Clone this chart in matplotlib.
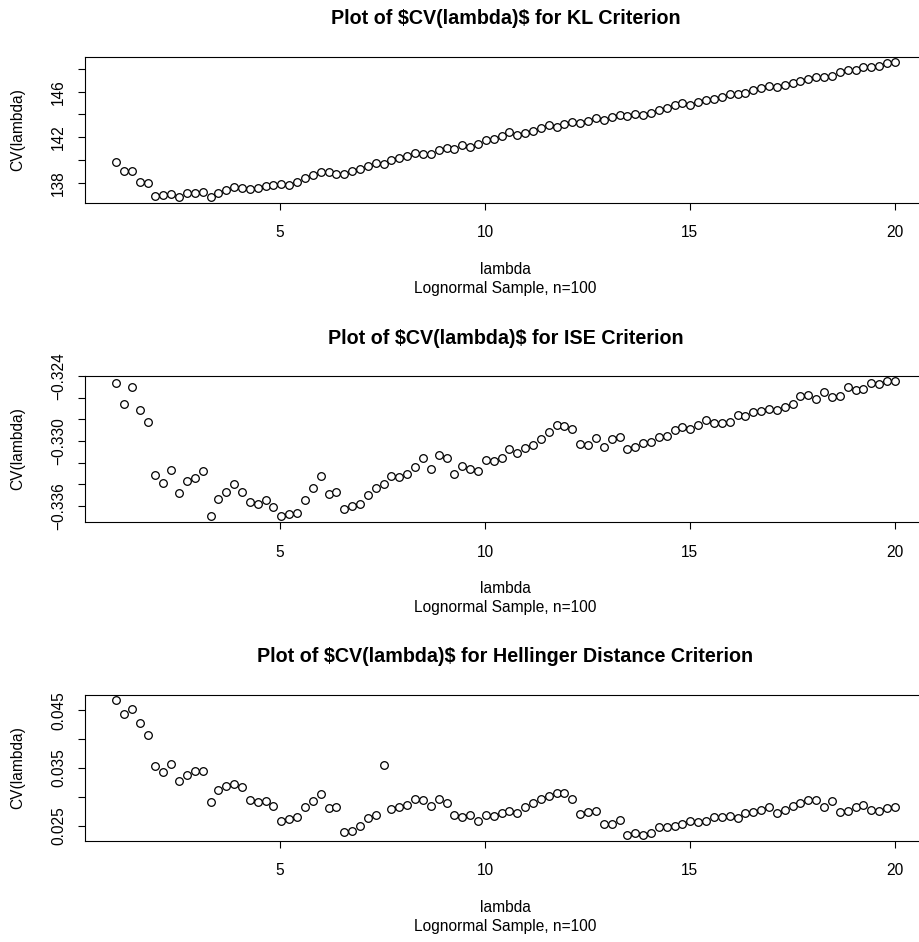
import matplotlib
matplotlib.use("Agg")
import matplotlib.pyplot as plt
import numpy as np

plt.rcParams['font.family'] = ['Liberation Sans', 'DejaVu Sans']

# lambda grid, 100 values from 1 to 20
lam = np.linspace(1, 20, 100)

cv_kl = [139.82, 139.0, 139.0, 138.09, 138.0, 136.86, 136.89, 137.03, 136.74, 137.09,
         137.09, 137.18, 136.77, 137.12, 137.35, 137.62, 137.56, 137.47, 137.53, 137.74,
         137.79, 137.85, 137.82, 138.03, 138.38, 138.65, 138.91, 138.91, 138.76, 138.76,
         139.06, 139.2, 139.47, 139.70, 139.67, 139.99, 140.14, 140.35, 140.61, 140.55,
         140.55, 140.90, 141.05, 140.99, 141.31, 141.17, 141.37, 141.72, 141.84, 142.11,
         142.43, 142.16, 142.37, 142.55, 142.81, 143.04, 142.93, 143.13, 143.34, 143.22,
         143.43, 143.66, 143.51, 143.75, 143.95, 143.87, 144.07, 143.95, 144.16, 144.39,
         144.6, 144.8, 144.98, 144.86, 145.10, 145.24, 145.39, 145.54, 145.80, 145.77,
         145.92, 146.12, 146.30, 146.50, 146.39, 146.62, 146.80, 146.97, 147.15, 147.27,
         147.27, 147.38, 147.74, 147.94, 147.94, 148.21, 148.18, 148.29, 148.53, 148.62]

cv_ise = [-0.32462, -0.32662, -0.32499, -0.32709, -0.32826, -0.3331, -0.33385, -0.3327, -0.33477, -0.33369,
          -0.33338, -0.33273, -0.33696, -0.33539, -0.33468, -0.33394, -0.33468, -0.33567, -0.33582, -0.33542,
          -0.3361, -0.33696, -0.33678, -0.33662, -0.33542, -0.33434, -0.3332, -0.33486, -0.33474, -0.33628,
          -0.33601, -0.33585, -0.33499, -0.33437, -0.33397, -0.3332, -0.33329, -0.33301, -0.33236, -0.33159,
          -0.33258, -0.33128, -0.33156, -0.33304, -0.33227, -0.33261, -0.33277, -0.33172, -0.33184, -0.33159,
          -0.3307, -0.33107, -0.3306, -0.33039, -0.32977, -0.32919, -0.32851, -0.3286, -0.32885, -0.33023,
          -0.33036, -0.32968, -0.33051, -0.3298, -0.32962, -0.33073, -0.33051, -0.33017, -0.33008, -0.32965,
          -0.32949, -0.32894, -0.32869, -0.32885, -0.32854, -0.32804, -0.32835, -0.32829, -0.3282, -0.32755,
          -0.32767, -0.3273, -0.32718, -0.32702, -0.32712, -0.32687, -0.32656, -0.32585, -0.32579, -0.3261,
          -0.32551, -0.32591, -0.32588, -0.32505, -0.32527, -0.32523, -0.32462, -0.32477, -0.32446, -0.32449]

cv_hell = [0.04679, 0.04436, 0.04523, 0.04275, 0.04066, 0.03535, 0.03436, 0.03564, 0.03275, 0.03373,
           0.03442, 0.03442, 0.02916, 0.03118, 0.03194, 0.03217, 0.0317, 0.0294, 0.02905, 0.02922,
           0.02835, 0.02587, 0.02616, 0.02645, 0.0283, 0.02922, 0.03043, 0.02812, 0.02824, 0.02396,
           0.02407, 0.02494, 0.02639, 0.02679, 0.03546, 0.02783, 0.02818, 0.02864, 0.02962, 0.02951,
           0.02835, 0.02962, 0.02899, 0.02685, 0.02645, 0.02691, 0.02587, 0.02685, 0.02668, 0.0272,
           0.0276, 0.0272, 0.02818, 0.02893, 0.02968, 0.0302, 0.03066, 0.03066, 0.02962, 0.02702,
           0.02743, 0.02749, 0.02535, 0.02523, 0.02604, 0.02338, 0.02367, 0.02338, 0.02367, 0.02477,
           0.02471, 0.02494, 0.02523, 0.02581, 0.02564, 0.02575, 0.02645, 0.02645, 0.02668, 0.02639,
           0.02725, 0.02743, 0.02777, 0.02818, 0.0272, 0.02777, 0.02835, 0.02893, 0.02951, 0.0294,
           0.02818, 0.02922, 0.02737, 0.02754, 0.02824, 0.02853, 0.02766, 0.02754, 0.028, 0.02829]

titles = ["Plot of \\$CV(lambda)\\$ for KL Criterion",
          "Plot of \\$CV(lambda)\\$ for ISE Criterion",
          "Plot of \\$CV(lambda)\\$ for Hellinger Distance Criterion"]

yticks = [[138, 140, 142, 144, 146, 148],
          [-0.324, -0.326, -0.328, -0.330, -0.332, -0.334, -0.336],
          [0.025, 0.030, 0.035, 0.040, 0.045]]
ylabels = [["138", "", "142", "", "146", ""],
           ["\u22120.324", "", "", "\u22120.330", "", "", "\u22120.336"],
           ["0.025", "", "0.035", "", "0.045"]]
xticks = [5, 10, 15, 20]

xlab = "lambda"
sublab = "Lognormal Sample, n=100"
ylab = "CV(lambda)"

W, H = 920, 942
fig = plt.figure(figsize=(W / 100, H / 100), dpi=100)

# top edge of each plot box in pixels
box_tops = [56.5, 375.7, 694.5]
box_h = 146
box_left = 85
box_w = 841

fs = 11.2
for i, vals in enumerate([cv_kl, cv_ise, cv_hell]):
    top = box_tops[i]
    ax = fig.add_axes([box_left / W, 1 - (top + box_h) / H, box_w / W, box_h / H])
    ax.plot(lam, vals, linestyle="none", marker="o", markersize=5.5,
            markerfacecolor="white", markeredgecolor="black", markeredgewidth=0.9)

    ax.set_xlim(1 - 0.04 * 19, 20 + 0.04 * 19)
    lo, hi = min(vals), max(vals)
    r = hi - lo
    ax.set_ylim(lo - 0.04 * r, hi + 0.04 * r)

    ax.set_xticks(xticks)
    ax.set_xticklabels([str(t) for t in xticks])
    ax.set_yticks(yticks[i])
    ax.set_yticklabels(ylabels[i], rotation=90, va="center")

    ax.tick_params(direction="out", length=5, width=0.8, labelsize=fs, colors="black")
    ax.tick_params(axis="x", pad=11.5)
    ax.tick_params(axis="y", pad=8.5)
    for s in ax.spines.values():
        s.set_linewidth(0.8)

    ax.annotate(titles[i], xy=(0.5, 1), xycoords="axes fraction",
                xytext=(0, 37.5), textcoords="offset pixels",
                ha="center", va="center", fontsize=14.2, fontweight="bold")
    ax.annotate(xlab, xy=(0.5, 0), xycoords="axes fraction",
                xytext=(0, -66.6), textcoords="offset pixels",
                ha="center", va="center", fontsize=fs)
    ax.annotate(sublab, xy=(0.5, 0), xycoords="axes fraction",
                xytext=(0, -85.6), textcoords="offset pixels",
                ha="center", va="center", fontsize=fs)
    ax.annotate(ylab, xy=(0, 0.5), xycoords="axes fraction",
                xytext=(-67, 0), textcoords="offset pixels",
                ha="center", va="center", rotation=90, fontsize=fs)

fig.savefig("out.png", dpi=100, facecolor="white")
